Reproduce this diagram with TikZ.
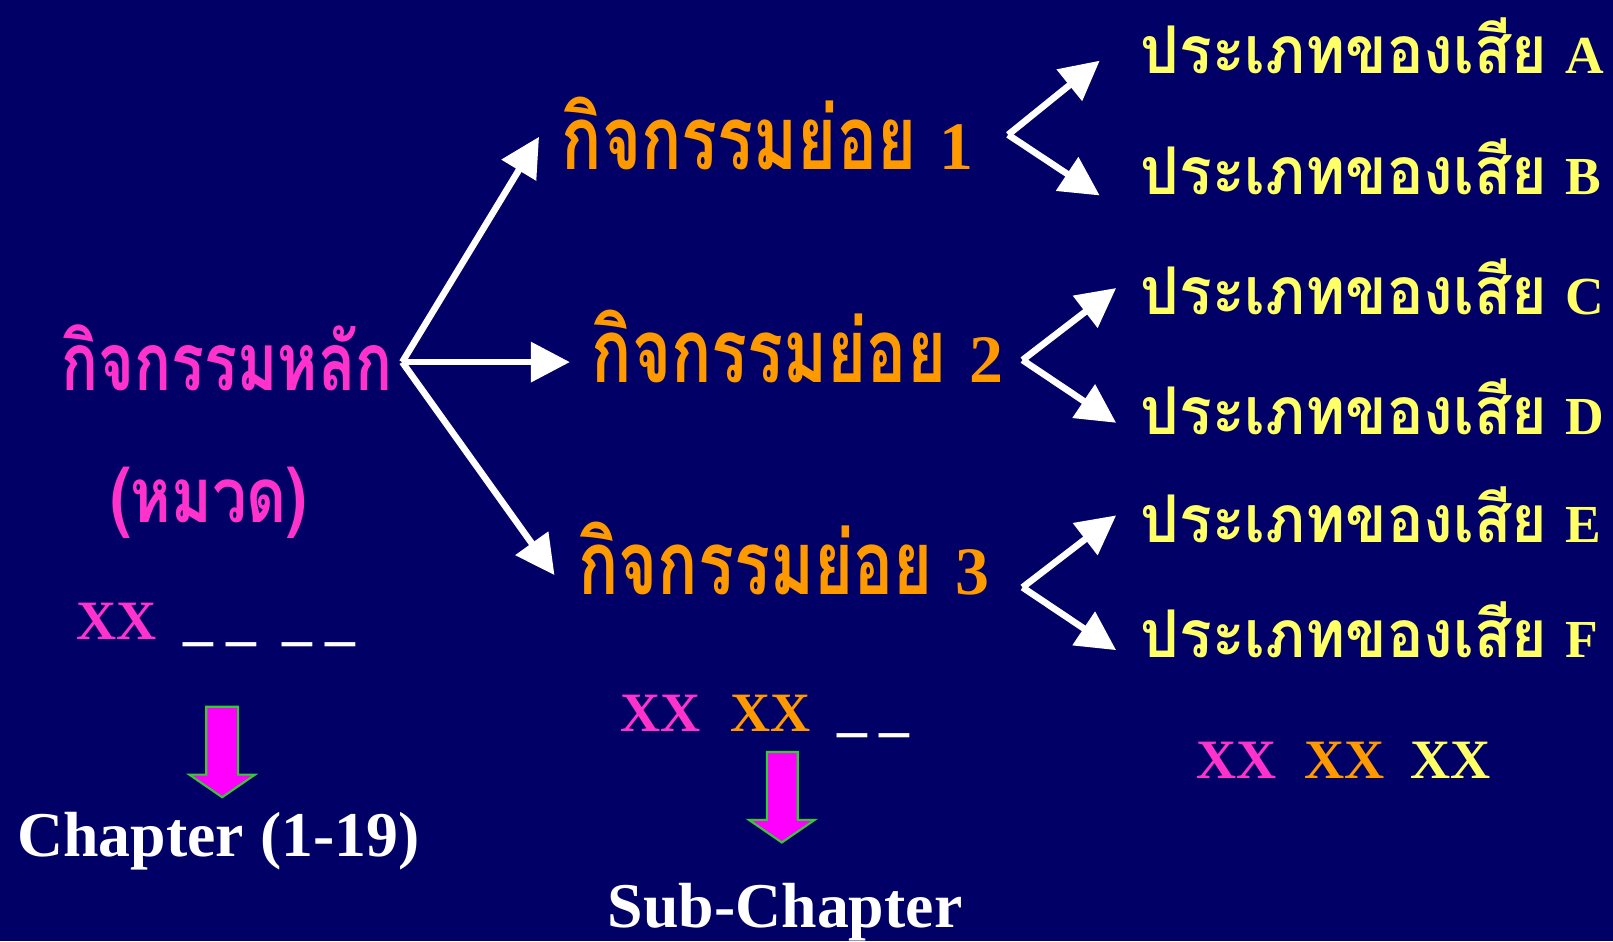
\documentclass[tikz,border=0pt]{standalone}
\usepackage{fontspec}
\usepackage{graphicx}
\setmainfont{Liberation Serif}
\newfontfamily\thai[Script=Thai]{Loma}
\usetikzlibrary{arrows.meta}
\definecolor{bg}{RGB}{0,0,102}
\definecolor{pinkT}{RGB}{255,51,204}
\definecolor{orangeT}{RGB}{255,153,0}
\definecolor{yellowT}{RGB}{255,255,102}
\definecolor{magA}{RGB}{255,0,255}
\definecolor{greenA}{RGB}{51,204,51}
\newcommand\thw[3]{\resizebox{#1}{\height}{\fontsize{#2}{#2}\selectfont\thai\bfseries #3}}
\newcommand\lat[2]{{\fontsize{#1}{#1}\selectfont\bfseries #2}}
\tikzset{
  lbl/.style={inner sep=0pt, outer sep=0pt, anchor=base west},
  conn/.style={white, line width=3.2pt, -{Triangle[length=19pt,width=19pt]}},
  blockarrow/.style={fill=magA, draw=greenA, line width=1pt, line join=miter},
}
\begin{document}
\begin{tikzpicture}[x=0.5pt,y=-0.5pt]
\fill[bg] (0,0) rectangle (1568,915);
\useasboundingbox (0,0) rectangle (1568,915);

% left column
\node[lbl, text=pinkT] (main) at (60,380) {\thw{161pt}{39pt}{กิจกรรมหลัก}};
\node[lbl, text=pinkT] (mvd) at (107,508) {\thw{96pt}{37pt}{(หมวด)}};
\node[lbl, text=pinkT] (xx1) at (74,622) {\lat{27pt}{XX}};
\node[lbl, text=white] (dash1) at (178,621) {\lat{29pt}{\_\hspace{6.5pt}\_\hspace{13pt}\_\hspace{6pt}\_}};
\draw[blockarrow] (200.5,687) -- (231.5,687) -- (231.5,753) -- (248,753) -- (216,775) -- (184,753) -- (200.5,753) -- cycle;
\node[lbl, text=white] (chap) at (17,833) {\lat{31pt}{Chapter (1-19)}};

% middle column
\node[lbl, text=orangeT] (s1) at (546,165) {\thw{172.5pt}{43pt}{กิจกรรมย่อย}\hspace{11pt}\lat{33pt}{1}};
\node[lbl, text=orangeT] (s2) at (575,372) {\thw{172.5pt}{43pt}{กิจกรรมย่อย}\hspace{11pt}\lat{33pt}{2}};
\node[lbl, text=orangeT] (s3) at (562,578) {\thw{172.5pt}{43pt}{กิจกรรมย่อย}\hspace{11pt}\lat{33pt}{3}};
\node[lbl, text=pinkT] (xx2a) at (603,711) {\lat{27pt}{XX}};
\node[lbl, text=orangeT] (xx2b) at (710,711) {\lat{27pt}{XX}};
\node[lbl, text=white] (dash2) at (814,709) {\lat{29pt}{\_\hspace{6pt}\_}};
\draw[blockarrow] (745.5,731) -- (775.5,731) -- (775.5,797) -- (792,797) -- (760,819) -- (728,797) -- (745.5,797) -- cycle;
\node[lbl, text=white] (subc) at (591,902) {\lat{31pt}{Sub-Chapter}};

% right column
\node[lbl, text=yellowT] (tA) at (1109,71) {\thw{197.5pt}{32pt}{ประเภทของเสีย}\hspace{9pt}\lat{26pt}{A}};
\node[lbl, text=yellowT] (tB) at (1109,189) {\thw{197.5pt}{32pt}{ประเภทของเสีย}\hspace{9pt}\lat{26pt}{B}};
\node[lbl, text=yellowT] (tC) at (1109,306) {\thw{197.5pt}{32pt}{ประเภทของเสีย}\hspace{9pt}\lat{26pt}{C}};
\node[lbl, text=yellowT] (tD) at (1109,422) {\thw{197.5pt}{32pt}{ประเภทของเสีย}\hspace{9pt}\lat{26pt}{D}};
\node[lbl, text=yellowT] (tE) at (1109,527) {\thw{197.5pt}{32pt}{ประเภทของเสีย}\hspace{9pt}\lat{26pt}{E}};
\node[lbl, text=yellowT] (tF) at (1109,639) {\thw{197.5pt}{32pt}{ประเภทของเสีย}\hspace{9pt}\lat{26pt}{F}};
\node[lbl, text=pinkT] (xx3a) at (1163,757) {\lat{27pt}{XX}};
\node[lbl, text=orangeT] (xx3b) at (1268,757) {\lat{27pt}{XX}};
\node[lbl, text=yellowT] (xx3c) at (1371,757) {\lat{27pt}{XX}};

% connectors
\coordinate (o0) at (391,352);
\coordinate (t1) at (524,133);
\coordinate (t2) at (554,352);
\coordinate (t3) at (539,559);
\draw[conn] (o0) -- (t1);
\draw[conn] (o0) -- (t2);
\draw[conn] (o0) -- (t3);

\coordinate (o1) at (980,131);
\coordinate (tA1) at (1069,59);
\coordinate (tB1) at (1069,190);
\coordinate (o2) at (994,350);
\coordinate (tC1) at (1085,280);
\coordinate (tD1) at (1085,411);
\coordinate (o3) at (994,571);
\coordinate (tE1) at (1085,501);
\coordinate (tF1) at (1085,632);
\draw[conn] (o1) -- (tA1);
\draw[conn] (o1) -- (tB1);
\draw[conn] (o2) -- (tC1);
\draw[conn] (o2) -- (tD1);
\draw[conn] (o3) -- (tE1);
\draw[conn] (o3) -- (tF1);
\end{tikzpicture}
\end{document}
